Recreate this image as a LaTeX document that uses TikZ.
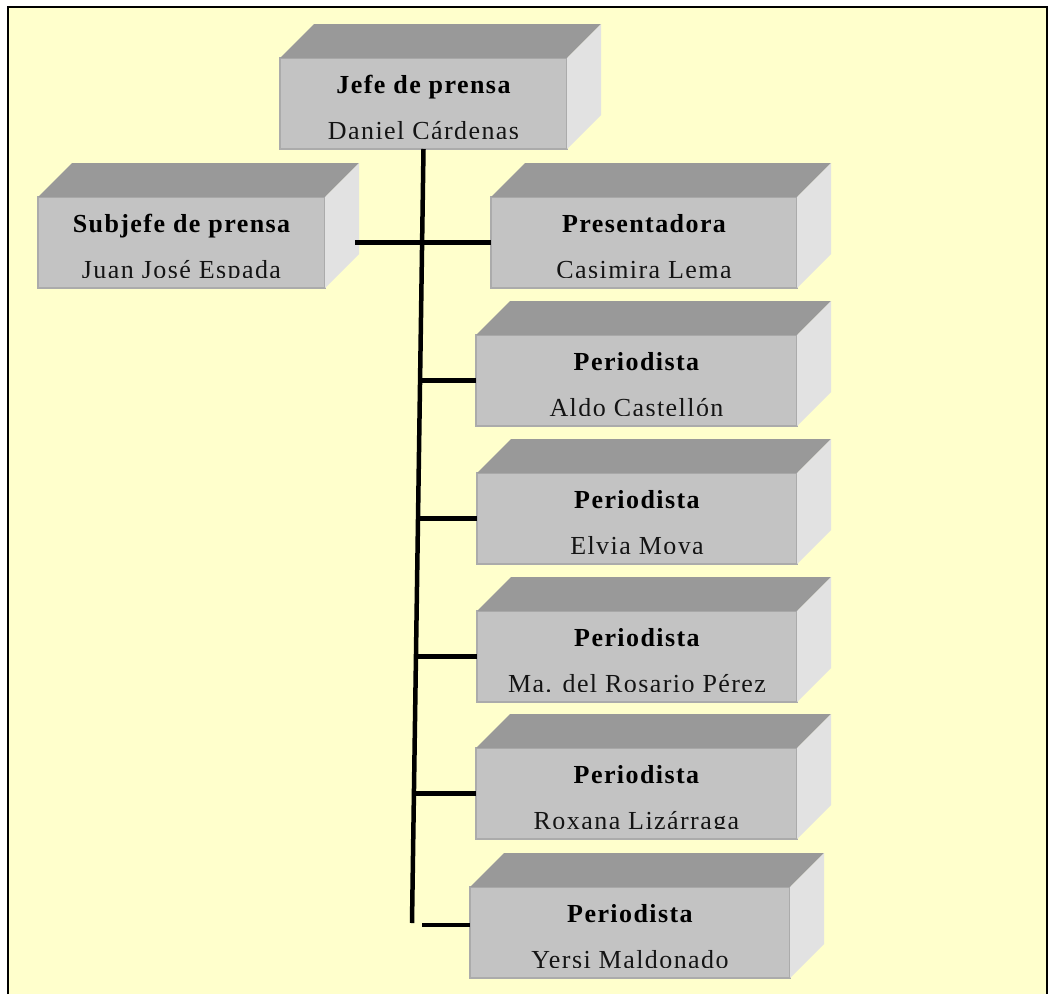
\documentclass[tikz,border=0pt]{standalone}
\usepackage{fontspec}
\setmainfont{Liberation Serif}[LetterSpace=5.5]
\usetikzlibrary{calc}
\definecolor{bgyellow}{HTML}{FFFFCC}
\definecolor{topgray}{HTML}{999999}
\definecolor{frontgray}{HTML}{C3C3C3}
\definecolor{sidegray}{HTML}{E2E2E2}
\definecolor{edgegray}{HTML}{ABABAB}
\tikzset{
 frontface/.style={rectangle, fill=frontgray, draw=edgegray, line width=1.5pt, inner sep=0pt, outer sep=0pt, minimum height=91pt},
 topfacestyle/.style={fill=topgray},
 sidefacestyle/.style={fill=sidegray},
 titletext/.style={font=\fontsize{26}{30}\selectfont\bfseries, anchor=base, inner sep=0pt},
 persontext/.style={font=\fontsize{26}{30}\selectfont, anchor=base, inner sep=0pt, text=black!92},
 conn/.style={line width=4.5pt, black},
}
\newcommand\orgcube[6]{%
 \node[frontface, minimum width=#4pt, anchor=north west] (#1) at (#2,#3) {};
 \fill[topfacestyle] (#1.north west) -- ++(34,-34) -- ($(#1.north east)+(34,-34)$) -- (#1.north east) -- cycle;
 \fill[sidefacestyle] (#1.north east) -- ++(34,-34) -- ($(#1.south east)+(34,-34)$) -- (#1.south east) -- cycle;
 \node[titletext] (#1-t) at ($(#1.north)+(0,35)$) {#5};
 \node[persontext] (#1-p) at ($(#1.north)+(0,81)$) {#6};
 \fill[frontgray] ($(#1.south west)+(1.5,-10)$) rectangle ($(#1.south east)+(-1.5,-1)$);
}
\begin{document}
\begin{tikzpicture}[x=1pt,y=-1pt]
\useasboundingbox (0,0) rectangle (1050,994);
\fill[bgyellow] (8,7) rectangle (1047,994);
\draw[black, line width=2.5pt] (8,994) -- (8,7) -- (1047,7) -- (1047,994);

\orgcube{jefe}{280}{58}{287}{Jefe de prensa}{Daniel Cárdenas}
\orgcube{subjefe}{38}{197}{287}{Subjefe de prensa}{Juan José Espada}
\orgcube{presentadora}{491}{197}{306}{Presentadora}{Casimira Lema}
\orgcube{aldo}{476}{335}{321}{Periodista}{Aldo Castellón}
\orgcube{elvia}{477}{473}{320}{Periodista}{Elvia Moya}
\orgcube{rosario}{477}{611}{320}{Periodista}{Ma. del Rosario Pérez}
\orgcube{roxana}{476}{748}{321}{Periodista}{Roxana Lizárraga}
\orgcube{yersi}{470}{887}{320}{Periodista}{Yersi Maldonado}

\coordinate (tend) at (412,923);
\draw[conn] (jefe.south) -- (tend);
\draw[conn] ($(subjefe.east)+(30,0)$) -- (presentadora.west);
\foreach \n/\t in {aldo/0.2975, elvia/0.476, rosario/0.656, roxana/0.8305} {
  \coordinate (br-\n) at ($(jefe.south)!\t!(tend)$);
  \draw[conn] (br-\n |- \n.west) -- (\n.west);
}
\coordinate (ystart) at (422,925);
\draw[conn] (ystart) -- (ystart -| yersi.west);
\end{tikzpicture}
\end{document}
